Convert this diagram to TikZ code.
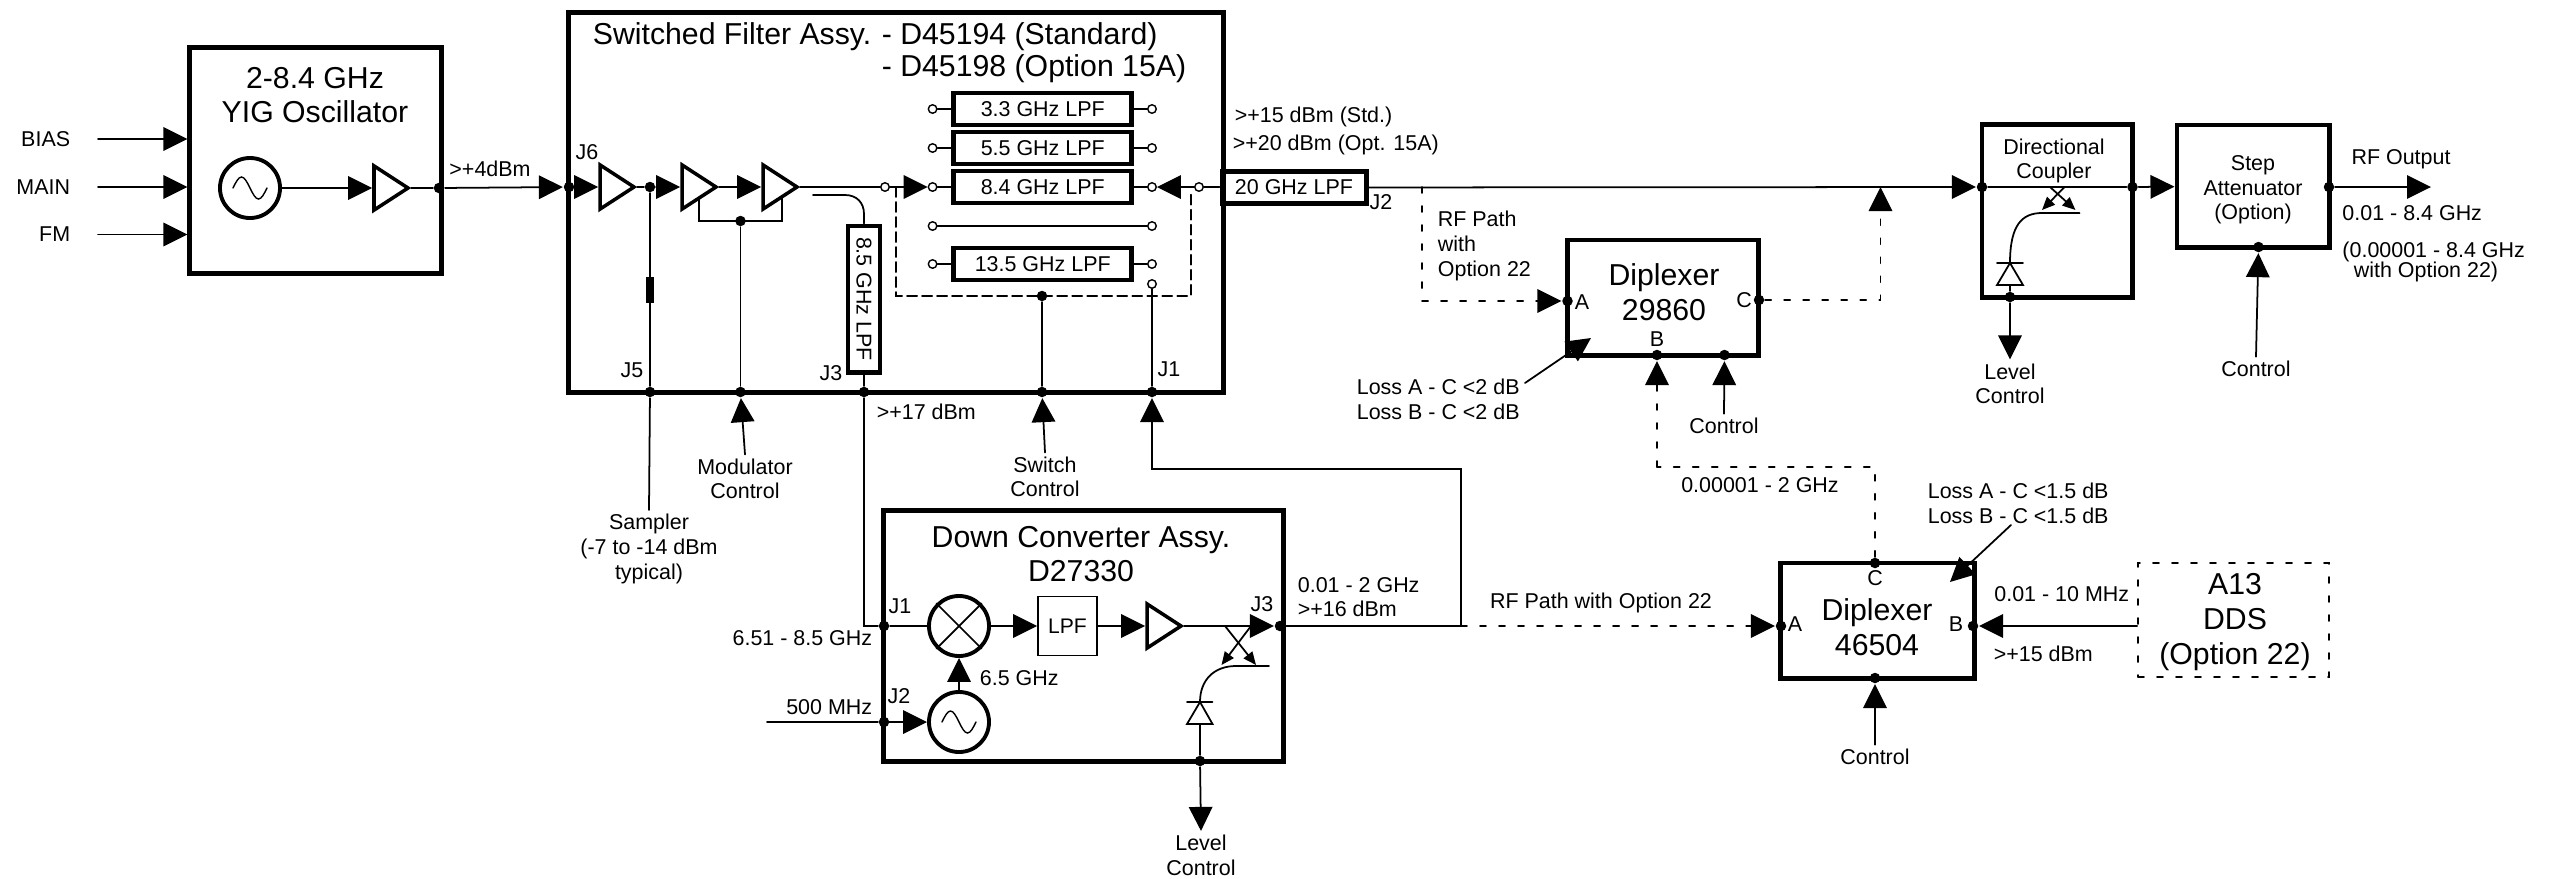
\documentclass[tikz,border=0pt]{standalone}
\usepackage{fontspec}
\setmainfont{Liberation Sans}
\usetikzlibrary{arrows.meta,shapes.geometric}

\tikzset{
    block/.style = {draw = black, line width = 1.4pt, inner sep = 0pt},
    filter/.style = {block, minimum width = 1.78cm, minimum height = 0.32cm, font = \fontsize{6.1}{7}\selectfont},
    dot/.style = {circle, fill = black, inner sep = 0pt, minimum size = 0.105cm},
    port/.style = {circle, draw = black, fill = white, line width = 0.4pt, inner sep = 0pt, minimum size = 0.085cm},
    amp/.style = {isosceles triangle, isosceles triangle apex angle = 66, draw = black, line width = 1pt,
        inner sep = 0pt, minimum width = 0.44cm, minimum height = 0.34cm},
    osc/.style = {circle, draw = black, line width = 1.1pt, inner sep = 0pt, minimum size = 0.6cm},
    lab/.style = {inner xsep = 0pt, inner ysep = 1pt, align = center, font = \fontsize{6.1}{7}\selectfont},
    big/.style = {inner sep = 0pt, align = center, font = \fontsize{8.6}{9.9}\selectfont},
    sig/.style = {-{Triangle[length = 0.24cm, width = 0.235cm]}},
    tiny/.style = {-{Triangle[length = 0.13cm, width = 0.11cm]}},
    opt/.style = {dash pattern = on 0.06cm off 0.13cm},
    wave/.pic = {\draw[line width = 0.4pt] (-17,0) sin (-8.5,-11) cos (0,0) sin (8.5,11) cos (17,0);}
}

\begin{document}
\begin{tikzpicture}[%
        x = 0.01cm,
        y = -0.01cm,
        line width = 0.5pt,
        line cap = round,
        font = \fontsize{6.1}{7}\selectfont
    ]
        \useasboundingbox (0,0) rectangle (2556,878);

        % The large blocks.
        \node (yig) [block, minimum width = 2.51cm, minimum height = 2.25cm] at (315.5,160.5) {};
        \node (sfa) [block, minimum width = 6.54cm, minimum height = 3.79cm] at (896,202.5) {};
        \node (dca) [block, minimum width = 3.99cm, minimum height = 2.50cm] at (1083.5,636) {};
        \node (cpl) [block, minimum width = 1.505cm, minimum height = 1.72cm] at (2057.25,211) {};
        \node (atn) [block, minimum width = 1.52cm, minimum height = 1.22cm] at (2253,186) {};
        \node (dpa) [block, minimum width = 1.915cm, minimum height = 1.15cm] at (1663,297.5) {};
        \node (dpb) [block, minimum width = 1.93cm, minimum height = 1.15cm] at (1877.5,620.5) {};
        \node (dds) [draw = black, opt, inner sep = 0pt, minimum width = 1.91cm, minimum height = 1.14cm] at (2233.5,620) {};
        \node (lpf) [draw = black, inner sep = 0pt, minimum size = 0.59cm, font = \fontsize{6}{7}\selectfont] at (1067.5,626) {LPF};

        % Text of the blocks.
        \node (tyig) [big] at (315,95) {2-8.4 GHz\\YIG Oscillator};
        \node (tsfa) [big, anchor = west] at (592,37) {Switched Filter Assy.};
        \node (tsfb) [big, anchor = west] at (881,37) {- D45194 (Standard)};
        \node (tsfc) [big, anchor = west] at (881,69) {- D45198 (Option 15A)};
        \node (tdca) [big] at (1081,554) {Down Converter Assy.\\D27330};
        \node (tdpa) [big] at (1664,292) {Diplexer\\29860};
        \node (tdpb) [big] at (1877,627) {Diplexer\\46504};
        \node (tdds) [big] at (2235,622) {A13\\DDS\\(Option 22)};
        \node (tcpl) [lab] at (2054,161) {Directional\\Coupler};
        \node (tatn) [lab] at (2253,190) {Step\\Attenuator\\(Option)};

        % Filters of the switched bank with their ports.
        \foreach \id/\val/\y in {a/3.3/109, b/5.5/148, c/8.4/187, e/13.5/264} {
            \node (flt\id) [filter] at (1042.75,\y) {\val~GHz LPF};
            \node (pl\id) [port] at (932.6,\y) {};
            \node (pr\id) [port] at (1152,\y) {};
            \draw (pl\id) -- (flt\id);
            \draw (flt\id) -- (pr\id);
        }
        \node (pld) [port] at (932.6,226) {};
        \node (prd) [port] at (1152,226) {};
        \node (prf) [port] at (1152,284) {};
        \node (swi) [port] at (885,187) {};
        \node (swo) [port] at (1199,187) {};
        \node (fltg) [filter, minimum width = 1.44cm] at (1294,187.5) {20 GHz LPF};
        \node (flth) [filter, minimum width = 1.46cm, rotate = -90] at (864,299) {8.5 GHz LPF};

        % Amplifiers, oscillators and the mixer.
        \node (ampa) [amp] at (386,188) {};
        \node (ampb) [amp] at (612,187) {};
        \node (ampc) [amp] at (694,187) {};
        \node (ampd) [amp] at (775,187) {};
        \node (ampe) [amp] at (1159,626) {};
        \node (osca) [osc] at (250,188) {};
        \node (oscb) [osc] at (959,722) {};
        \node (mix) [osc] at (959,626) {};
        \pic at (osca) {wave};
        \pic at (oscb) {wave};
        \draw (mix.45) -- (mix.225);
        \draw (mix.135) -- (mix.315);

        % Connection dots.
        \begin{scope}[every node/.style = {dot}]
            \node (yo) at (439,188) {};
            \node (jsix) at (569,187) {};
            \node (tap) at (650,187) {};
            \node (mod) at (740.5,221) {};
            \node (jfive) at (650,392) {};
            \node (jmod) at (740.5,392) {};
            \node (jthr) at (864,392) {};
            \node (jsw) at (1042,392) {};
            \node (jone) at (1152,392) {};
            \node (swd) at (1042,296) {};
            \node (ci) at (1982,187) {};
            \node (co) at (2132.5,187) {};
            \node (cd) at (2010,297) {};
            \node (ao) at (2329,187) {};
            \node (ac) at (2258.5,247) {};
            \node (pa) at (1567.5,301) {};
            \node (pb) at (1657,355) {};
            \node (pc) at (1759,300) {};
            \node (pk) at (1724.5,355) {};
            \node (qa) at (1781,626) {};
            \node (qb) at (1973,626) {};
            \node (qc) at (1875,563) {};
            \node (qk) at (1875,678) {};
            \node (dj) at (884,626) {};
            \node (dl) at (884,722) {};
            \node (dt) at (1280,626) {};
            \node (dd) at (1200,761) {};
        \end{scope}
        \node (res) [fill = black, inner sep = 0pt, minimum width = 0.085cm, minimum height = 0.26cm] at (650,290) {};

        % Free ends of the connectors.
        \coordinate (lo) at (767,722);
        \coordinate (brl) at (699,198);
        \coordinate (brm) at (699,221);
        \coordinate (brn) at (782,221);
        \coordinate (bro) at (782,198);
        \coordinate (cca) at (813,195);
        \coordinate (ccb) at (864,214);
        \coordinate (ka) at (1461,626);
        \coordinate (kb) at (1461,469);
        \coordinate (sa) at (896,187);
        \coordinate (sb) at (896,296);
        \coordinate (sc) at (1191,296);
        \coordinate (sd) at (1191,190);
        \coordinate (ua) at (1422,187);
        \coordinate (ub) at (1880.5,187);
        \coordinate (uc) at (1657,467);
        \coordinate (rf) at (2431,187);
        \coordinate (la) at (1525,383);
        \coordinate (lb) at (1591,338);
        \coordinate (lc) at (2011,525);
        \coordinate (ld) at (1950,582);

        % Labels.
        \foreach \name/\y in {BIAS/139, MAIN/187, FM/234.5} {
            \node (in\name) [lab, anchor = east] at (71,\y) {\name};
            \coordinate (from\name) at (98,\y);
            \draw[sig] (from\name) -- (from\name -| yig.west);
        }
        \node (lfour) [lab] at (490,169) {>+4dBm};
        \node (lsix) [lab] at (587,152) {J6};
        \node (lfive) [lab] at (632,370) {J5};
        \node (lthr) [lab] at (831,373) {J3};
        \node (lone) [lab] at (1169,369) {J1};
        \node (ltwo) [lab] at (1381,202) {J2};
        \node (lstd) [lab, anchor = west] at (1234,117) {>+15 dBm (Std.)};
        \node (lopt) [lab, anchor = west] at (1232,145) {>+20 dBm (Opt. 15A)};
        \node (lseven) [lab, anchor = west] at (876,412) {>+17 dBm};
        \node (lsmp) [lab] at (649,549) {Sampler\\(-7 to -14 dBm\\typical)};
        \node (lmod) [lab] at (745,479) {Modulator\\Control};
        \node (lsw) [lab] at (1045,477) {Switch\\Control};
        \node (lpath) [lab, align = left, anchor = west] at (1437,246) {RF Path\\with\\Option 22};
        \node (ploa) [lab, align = left, anchor = west] at (1356,399.5) {Loss A - C <2 dB\\Loss B - C <2 dB};
        \node (lpa) [lab] at (1582,302) {A};
        \node (lpb) [lab] at (1657,339) {B};
        \node (lpc) [lab] at (1744,300) {C};
        \node (lpk) [lab] at (1724,426) {Control};
        \node (lcd) [lab] at (2010,384) {Level\\Control};
        \node (lak) [lab] at (2256,369) {Control};
        \node (lrf) [lab] at (2401,159) {RF Output};
        \node (lbw) [lab, anchor = west] at (2341.6,213) {0.01 - 8.4 GHz};
        \node (lbx) [lab, anchor = west] at (2341.6,252) {(0.00001 - 8.4 GHz};
        \node (lby) [lab, anchor = west] at (2353,272) {with Option 22)};
        \node (lgap) [lab] at (1760,485) {0.00001 - 2 GHz};
        \node (qloa) [lab, align = left, anchor = west] at (1927,503.5) {Loss A - C <1.5 dB\\Loss B - C <1.5 dB};
        \node (lqa) [lab] at (1795,624) {A};
        \node (lqb) [lab] at (1956,624) {B};
        \node (lqc) [lab] at (1875,578) {C};
        \node (lqk) [lab] at (1875,757) {Control};
        \node (lmhz) [lab, anchor = east] at (2130,594) {0.01 - 10 MHz};
        \node (lfift) [lab, anchor = west] at (1993,654) {>+15 dBm};
        \node (lpth) [lab] at (1601,603) {RF Path with Option 22};
        \node (ldj) [lab] at (900,606) {J1};
        \node (ldl) [lab] at (899,696) {J2};
        \node (ldt) [lab] at (1262,604) {J3};
        \node (lrfin) [lab, anchor = east] at (873,638) {6.51 - 8.5 GHz};
        \node (lifa) [lab, anchor = east] at (873,707) {500 MHz};
        \node (llo) [lab, anchor = west] at (979,678) {6.5 GHz};
        \node (lif) [lab, align = left, anchor = west] at (1297,597) {0.01 - 2 GHz\\>+16 dBm};
        \node (ldd) [lab] at (1201,855.5) {Level\\Control};

        % Signal path through the oscillator and the filter assembly.
        \draw[sig] (osca) -- (ampa.lower side);
        \draw (ampa.apex) -- (yo);
        \draw[sig] (yo) -- (jsix);
        \draw[sig] (jsix) -- (ampb.lower side);
        \draw (ampb.apex) -- (tap);
        \draw[sig] (tap) -- (ampc.lower side);
        \draw[sig] (ampc.apex) -- (ampd.lower side);
        \draw (ampd.apex) -- (swi);
        \draw[sig] (swi) -- (plc);
        \draw[sig] (swo) -- (prc);
        \draw (swo) -- (fltg);
        \draw (pld) -- (prd);

        % Sampler and modulator branches.
        \draw (tap) -- (jfive);
        \draw (jfive) -- (lsmp.north);
        \draw (brl) -- (brm) -- (brn) -- (bro);
        \draw (mod) -- (jmod);
        \draw[sig] (lmod.north) -- (jmod);

        % Dashed outline of the switch.
        \draw[dash pattern = on 0.1cm off 0.05cm] (sa) -- (sb) -- (sc) -- (sd);
        \draw (swd) -- (jsw);
        \draw[sig] (lsw.north) -- (jsw);

        % The 8.5 GHz path down to the converter.
        \draw (cca) -- (845,195) .. controls (857,195) and (864,203) .. (ccb) -- (flth.west);
        \draw (flth.east) -- (jthr);
        \draw (jthr) |- (dj);
        \draw (dj) -- (mix);
        \draw[sig] (mix) -- (lpf);
        \draw[sig] (lpf) -- (ampe.lower side);
        \draw[sig] (ampe.apex) -- (dt);
        \draw[sig] (lo -| dl) -- (oscb);
        \draw (lo) -- (dl);
        \draw[sig] (oscb) -- (mix);

        % Output of the converter, back to J1 and on to the diplexer.
        \draw (prf) -- (jone);
        \draw[sig] (dt) -- (ka) -- (kb) -| (jone);
        \draw[sig, opt] (ka) -- (qa);

        % Coupler inside the converter.
        \draw[tiny] (1225,626) -- (1256,665);
        \draw[tiny] (1251,626) -- (1221.5,665);
        \draw (1269,666) -- (1236,666) .. controls (1214,666) and (1200,680) .. (1200,702);
        \draw (1187,702) -- (1212.5,702);
        \draw (1200,702) -- (1212.5,724) -- (1187,724) -- cycle;
        \draw (1200,724) -- (dd);
        \draw[sig] (dd) -- (ldd.north);

        % Main output line and the coupler.
        \draw[sig] (fltg) -- (ci);
        \draw (ci) -- (co);
        \draw[sig] (co) -- (atn);
        \draw[sig] (ao) -- (rf);
        \draw[tiny] (2050,187) -- (2075.5,210);
        \draw[tiny] (2064.5,187) -- (2042,210);
        \draw (2079.6,213) -- (2042,213) .. controls (2022,213) and (2010,225) .. (2010,263);
        \draw (1997,263) -- (2023,263);
        \draw (2010,263) -- (2023,285) -- (1997,285) -- cycle;
        \draw (2010,285) -- (cd);
        \draw[sig] (cd) -- (lcd.north);
        \draw[sig] (lak.north) -- (ac);

        % Paths with the diplexers.
        \draw[sig, opt] (ua) |- (pa);
        \draw[sig, opt] (pc) -| (ub);
        \draw[opt] (qc) |- (uc);
        \draw[sig, opt] (uc) -- (pb);
        \draw[sig] (lpk.north) -- (pk);
        \draw[sig] (la) -- (lb);
        \draw[sig] (lc) -- (ld);
        \draw[sig] (lqk.north) -- (qk);
        \draw[sig] (dds.west |- qb) -- (qb);
    \end{tikzpicture}
\end{document}
